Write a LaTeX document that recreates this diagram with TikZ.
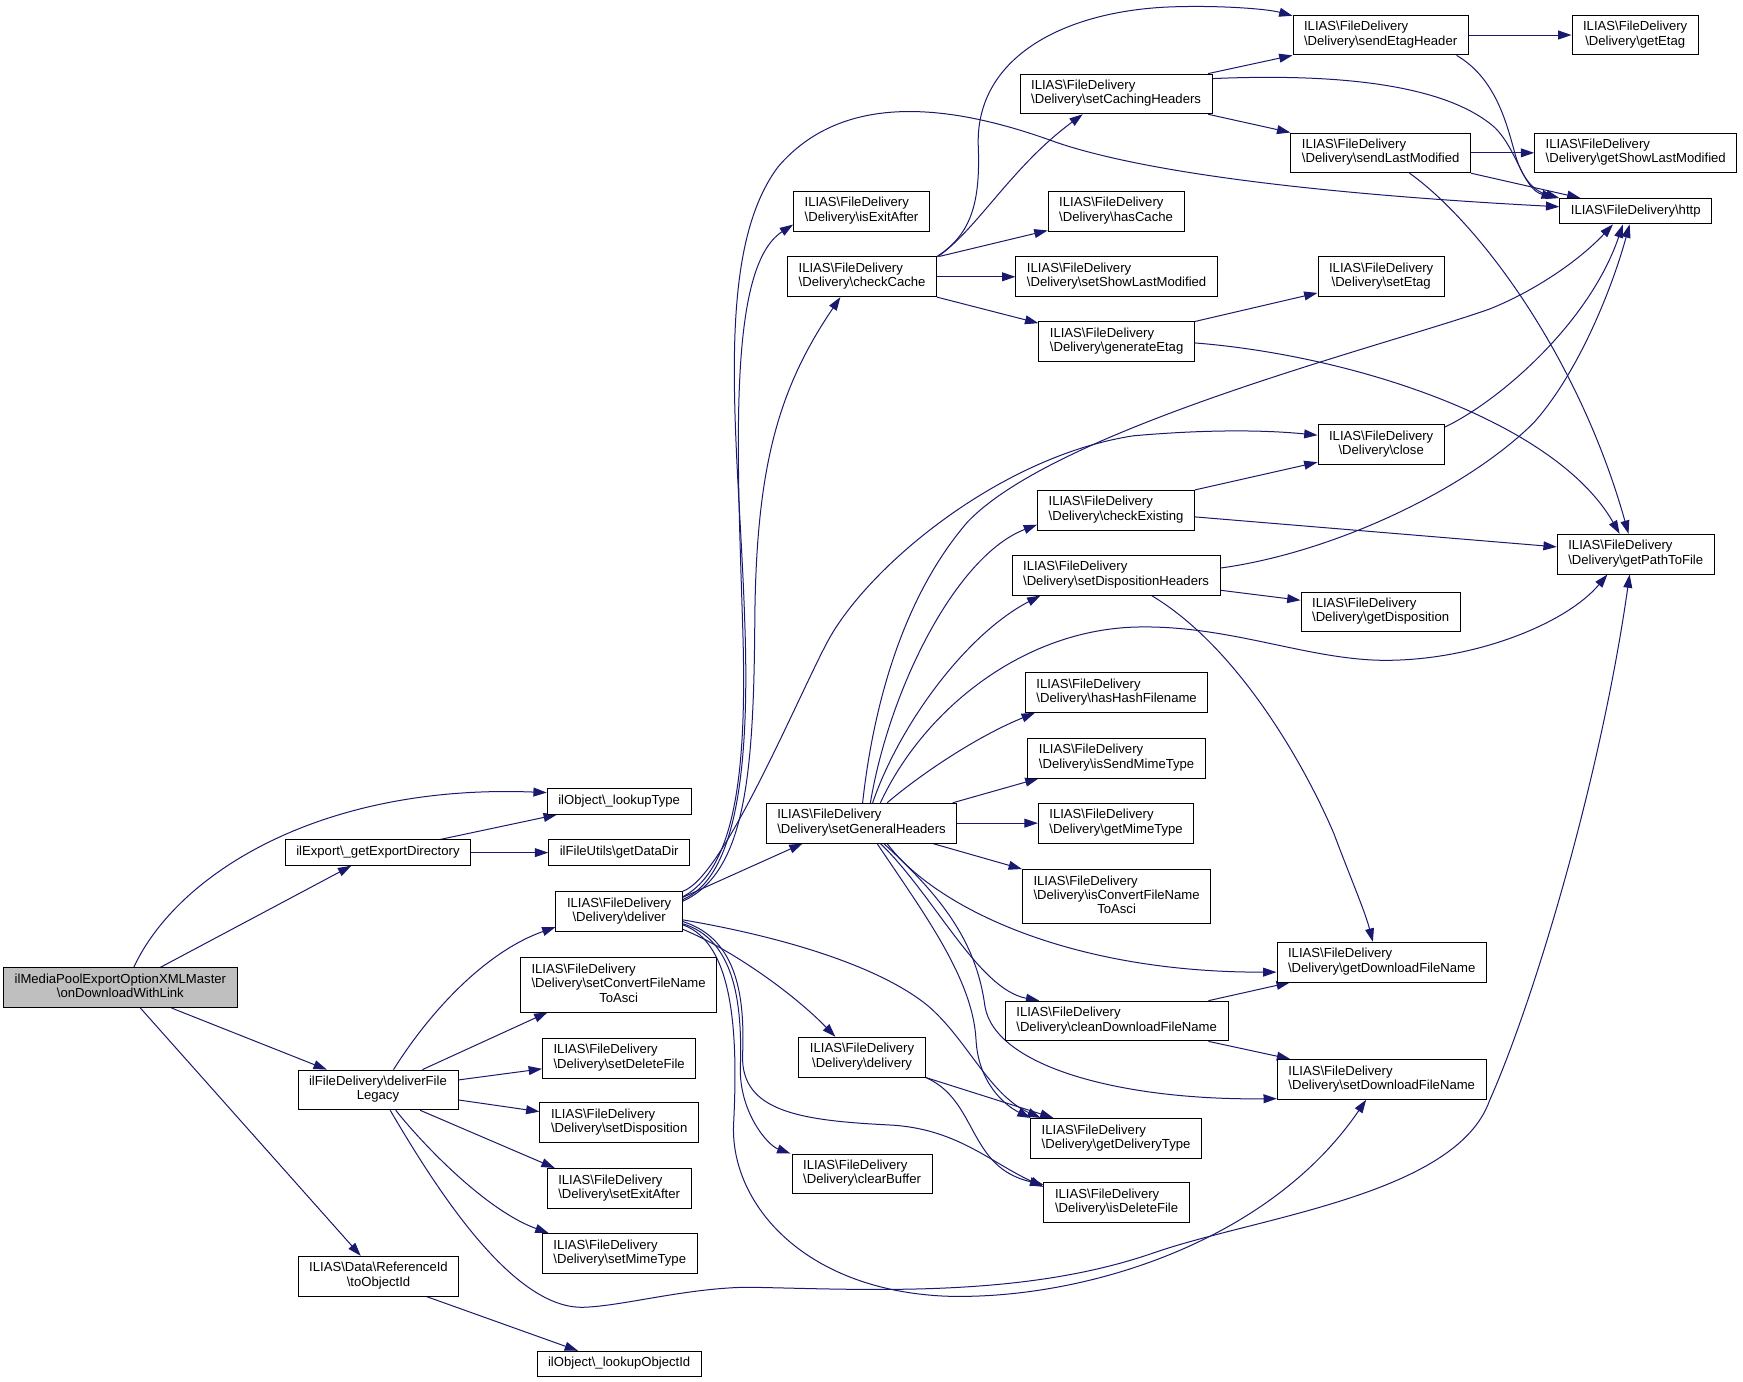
\documentclass[tikz,border=0pt]{standalone}
\usepackage{fontspec}
\setmainfont{Liberation Sans}
\usetikzlibrary{arrows.meta}
\pgfdeclarelayer{bg}
\pgfdeclarelayer{paper}
\pgfsetlayers{paper,bg,main}
\definecolor{edgecol}{HTML}{191970}
\definecolor{maingray}{HTML}{BFBFBF}
\newcommand\bsl{\textbackslash}
\newcommand\fdl{ILIAS\bsl FileDelivery}
\newcommand\dlv{\bsl Delivery\bsl}
\newcommand\lblA[1]{\begin{tabular}{@{}l@{}}#1\end{tabular}}
\newcommand\lblB[2]{\begin{tabular}{@{}l@{}}#1\\\multicolumn{1}{@{}c@{}}{#2}\end{tabular}}
\newcommand\lblC[3]{\begin{tabular}{@{}l@{}}#1\\#2\\\multicolumn{1}{@{}c@{}}{#3}\end{tabular}}
\tikzset{
  nbox/.style={draw=black, line width=0.8pt, fill=white, inner xsep=10pt, inner ysep=5pt,
    font=\fontsize{11.8}{12.9}\selectfont, anchor=center},
  conn/.style={draw=edgecol, line width=0.9pt, -{Triangle[length=12pt,width=8pt]}},
}
\begin{document}
\begin{tikzpicture}[x=1pt,y=-1pt]
\begin{pgfonlayer}{paper}
\fill[white] (0,0) rectangle (1568,1243);
\end{pgfonlayer}
\useasboundingbox (0,0) rectangle (1568,1243);

% ---------- nodes ----------
\node[nbox, fill=maingray] (main) at (108.3,888.5) {\lblB{ilMediaPoolExportOptionXMLMaster}{\bsl onDownloadWithLink}};
\node[nbox] (lookupType) at (557,721) {\lblA{ilObject\bsl\_lookupType}};
\node[nbox] (getExportDirectory) at (340,767) {\lblA{ilExport\bsl\_getExportDirectory}};
\node[nbox] (getDataDir) at (557,767) {\lblA{ilFileUtils\bsl getDataDir}};
\node[nbox] (deliver) at (557,820) {\lblB{\fdl}{\dlv deliver}};
\node[nbox] (setConvertFileNameToAsci) at (556.5,886) {\lblC{\fdl}{\dlv setConvertFileName}{ToAsci}};
\node[nbox] (setDeleteFile) at (557,952) {\lblB{\fdl}{\dlv setDeleteFile}};
\node[nbox] (deliverFileLegacy) at (340,980.5) {\lblB{ilFileDelivery\bsl deliverFile}{Legacy}};
\node[nbox] (setDisposition) at (557,1010) {\lblB{\fdl}{\dlv setDisposition}};
\node[nbox] (setExitAfter) at (557,1069) {\lblB{\fdl}{\dlv setExitAfter}};
\node[nbox] (setMimeType) at (557.5,1127.5) {\lblB{\fdl}{\dlv setMimeType}};
\node[nbox] (toObjectId) at (340.5,1148) {\lblB{ILIAS\bsl Data\bsl ReferenceId}{\bsl toObjectId}};
\node[nbox] (lookupObjectId) at (557,1227) {\lblA{ilObject\bsl\_lookupObjectId}};
\node[nbox] (isExitAfter) at (775,190) {\lblB{\fdl}{\dlv isExitAfter}};
\node[nbox] (checkCache) at (775.5,249) {\lblB{\fdl}{\dlv checkCache}};
\node[nbox] (setCachingHeaders) at (1004,84.5) {\lblB{\fdl}{\dlv setCachingHeaders}};
\node[nbox] (sendEtagHeader) at (1242,31.5) {\lblB{\fdl}{\dlv sendEtagHeader}};
\node[nbox] (getEtag) at (1471,31.5) {\lblB{\fdl}{\dlv getEtag}};
\node[nbox] (sendLastModified) at (1242,137.5) {\lblB{\fdl}{\dlv sendLastModified}};
\node[nbox] (getShowLastModified) at (1471.5,137.5) {\lblB{\fdl}{\dlv getShowLastModified}};
\node[nbox] (http) at (1471.5,190) {\lblA{\fdl\bsl http}};
\node[nbox] (hasCache) at (1004,190) {\lblB{\fdl}{\dlv hasCache}};
\node[nbox] (setShowLastModified) at (1004.5,249) {\lblB{\fdl}{\dlv setShowLastModified}};
\node[nbox] (setEtag) at (1242.5,249) {\lblB{\fdl}{\dlv setEtag}};
\node[nbox] (generateEtag) at (1004.5,307.5) {\lblB{\fdl}{\dlv generateEtag}};
\node[nbox] (close) at (1242.5,400) {\lblB{\fdl}{\dlv close}};
\node[nbox] (checkExisting) at (1004,459) {\lblB{\fdl}{\dlv checkExisting}};
\node[nbox] (getPathToFile) at (1471.5,498.5) {\lblB{\fdl}{\dlv getPathToFile}};
\node[nbox] (setDispositionHeaders) at (1004,517.5) {\lblB{\fdl}{\dlv setDispositionHeaders}};
\node[nbox] (getDisposition) at (1242,550.5) {\lblB{\fdl}{\dlv getDisposition}};
\node[nbox] (hasHashFilename) at (1004.5,623) {\lblB{\fdl}{\dlv hasHashFilename}};
\node[nbox] (isSendMimeType) at (1004.5,682) {\lblB{\fdl}{\dlv isSendMimeType}};
\node[nbox] (setGeneralHeaders) at (775,740.5) {\lblB{\fdl}{\dlv setGeneralHeaders}};
\node[nbox] (getMimeType) at (1004,740.5) {\lblB{\fdl}{\dlv getMimeType}};
\node[nbox] (isConvertFileNameToAsci) at (1004.5,806.5) {\lblC{\fdl}{\dlv isConvertFileName}{ToAsci}};
\node[nbox] (getDownloadFileName) at (1243,865.5) {\lblB{\fdl}{\dlv getDownloadFileName}};
\node[nbox] (cleanDownloadFileName) at (1004.5,918.5) {\lblB{\fdl}{\dlv cleanDownloadFileName}};
\node[nbox] (setDownloadFileName) at (1243,971) {\lblB{\fdl}{\dlv setDownloadFileName}};
\node[nbox] (delivery) at (775.5,951) {\lblB{\fdl}{\dlv delivery}};
\node[nbox] (getDeliveryType) at (1004,1024) {\lblB{\fdl}{\dlv getDeliveryType}};
\node[nbox] (clearBuffer) at (775.5,1056) {\lblB{\fdl}{\dlv clearBuffer}};
\node[nbox] (isDeleteFile) at (1004.5,1082) {\lblB{\fdl}{\dlv isDeleteFile}};

% ---------- connectors ----------
\begin{pgfonlayer}{bg}
% main
\draw[conn] ([xshift=12]main.north) .. controls (160,785) and (290,705) .. ([yshift=8]lookupType.west);
\draw[conn] ([xshift=36]main.north) -- ([xshift=-24]getExportDirectory.south);
\draw[conn] ([xshift=46]main.south) -- ([xshift=-46]deliverFileLegacy.north);
\draw[conn] ([xshift=18]main.south) -- ([xshift=-16]toObjectId.north);
\draw[conn] ([xshift=56]getExportDirectory.north) -- ([xshift=-56]lookupType.south);
\draw[conn] (getExportDirectory.east) -- (getDataDir.west);
\draw[conn] ([xshift=43]toObjectId.south) -- ([xshift=-37]lookupObjectId.north);
% deliverFileLegacy
\draw[conn] ([xshift=14]deliverFileLegacy.north) .. controls (390,905) and (440,855) .. ([yshift=-14]deliver.west);
\draw[conn] ([xshift=40]deliverFileLegacy.north) -- ([xshift=-64]setConvertFileNameToAsci.south);
\draw[conn] ([yshift=9]deliverFileLegacy.east) -- ([yshift=-9.5]setDeleteFile.west);
\draw[conn] ([yshift=-9]deliverFileLegacy.east) -- ([yshift=10]setDisposition.west);
\draw[conn] ([xshift=38]deliverFileLegacy.south) -- ([xshift=-58]setExitAfter.north);
\draw[conn] ([xshift=16]deliverFileLegacy.south) .. controls (385,1035) and (440,1090) .. ([xshift=-64]setMimeType.north);
\draw[conn] ([xshift=11]deliverFileLegacy.south) .. controls (390,1065) and (460,1178) .. (525,1176)
   .. controls (560,1175) and (620,1158) .. (675,1158)
   .. controls (780,1160) and (920,1168) .. (1038,1127)
   .. controls (1130,1095) and (1310,1075) .. (1340,990)
   .. controls (1380,900) and (1440,700) .. ([xshift=-5.5]getPathToFile.south);
% deliver
\draw[conn] ([yshift=-7.5]deliver.north east) .. controls (660,790) and (675,700) .. (670,560)
   .. controls (665,400) and (640,230) .. (700,150)
   .. controls (760,80) and (860,95) .. (950,128)
   .. controls (1050,162) and (1250,178) .. ([yshift=4]http.west);
\draw[conn] ([yshift=-5]deliver.north east) .. controls (665,780) and (672,680) .. (668,560)
   .. controls (663,400) and (655,240) .. ([yshift=-12]isExitAfter.west);
\draw[conn] ([yshift=-9]deliver.north east) .. controls (670,785) and (678,700) .. (679,560)
   .. controls (680,420) and (700,350) .. ([xshift=-19.5]checkCache.south);
\draw[conn] (deliver.north east) .. controls (650,790) and (716,631) .. (744,578)
   .. controls (780,510) and (900,410) .. (1020,392)
   .. controls (1100,385) and (1150,388) .. ([yshift=8.5]close.west);
\draw[conn] ([yshift=-5.5]deliver.north east) -- ([xshift=-53]setGeneralHeaders.south);
\draw[conn] ([yshift=-7.5]deliver.east) .. controls (700,842) and (790,868) .. (835,905)
   .. controls (870,935) and (890,985) .. ([xshift=9.5]getDeliveryType.north west);
\draw[conn] ([yshift=-16]deliver.east) .. controls (660,855) and (715,895) .. ([xshift=-24]delivery.north);
\draw[conn] ([yshift=-11]deliver.east) .. controls (660,845) and (668,900) .. (666,960)
   .. controls (665,1000) and (690,1030) .. ([xshift=-1]clearBuffer.north west);
\draw[conn] ([yshift=-9]deliver.east) .. controls (665,845) and (670,900) .. (668,950)
   .. controls (667,1000) and (720,1008) .. (800,1012)
   .. controls (860,1015) and (890,1045) .. ([yshift=-4]isDeleteFile.north west);
\draw[conn] ([yshift=-12]deliver.east) .. controls (660,848) and (664,930) .. (660,1010)
   .. controls (656,1080) and (720,1160) .. (850,1166)
   .. controls (970,1170) and (1140,1120) .. ([xshift=-14]setDownloadFileName.south);
% checkCache
\draw[conn] (checkCache.north east) .. controls (875,210) and (882,180) .. (880,130)
   .. controls (878,50) and (960,8) .. (1060,6)
   .. controls (1100,5) and (1140,8) .. ([yshift=-1]sendEtagHeader.north west);
\draw[conn] ([xshift=1]checkCache.north east) .. controls (880,205) and (910,150) .. ([xshift=-30]setCachingHeaders.south);
\draw[conn] ([xshift=2]checkCache.north east) -- ([yshift=1]hasCache.south west);
\draw[conn] (checkCache.east) -- (setShowLastModified.west);
\draw[conn] (checkCache.south east) -- ([yshift=-1.5]generateEtag.north west);
% setCachingHeaders
\draw[conn] ([xshift=-4]setCachingHeaders.north east) -- (sendEtagHeader.south west);
\draw[conn] ([yshift=-4.5]setCachingHeaders.north east) .. controls (1200,66) and (1300,75) .. (1345,115)
   .. controls (1365,135) and (1370,170) .. ([xshift=-4]http.north west);
\draw[conn] ([xshift=-4]setCachingHeaders.south east) -- (sendLastModified.north west);
% sendEtagHeader
\draw[conn] (sendEtagHeader.east) -- (getEtag.west);
\draw[conn] ([xshift=-11]sendEtagHeader.south east) .. controls (1345,70) and (1355,110) .. (1362,135)
   .. controls (1368,160) and (1380,172) .. (http.north west);
% sendLastModified
\draw[conn] (sendLastModified.east) -- (getShowLastModified.west);
\draw[conn] (sendLastModified.south east) -- ([xshift=19]http.north west);
\draw[conn] ([xshift=26]sendLastModified.south) .. controls (1330,200) and (1420,320) .. ([xshift=-6.5]getPathToFile.north);
% generateEtag
\draw[conn] (generateEtag.north east) -- ([yshift=-14.5]setEtag.west);
\draw[conn] ([yshift=-1]generateEtag.east) .. controls (1220,320) and (1400,380) .. ([xshift=-14.5]getPathToFile.north);
% close
\draw[conn] ([yshift=-2.5]close.north east) .. controls (1350,360) and (1430,290) .. ([xshift=-11.5]http.south);
% checkExisting
\draw[conn] (checkExisting.north east) -- ([yshift=2.5]close.south west);
\draw[conn] ([yshift=-6]checkExisting.east) -- ([yshift=6.5]getPathToFile.west);
% setDispositionHeaders
\draw[conn] ([yshift=6.5]setDispositionHeaders.east) .. controls (1200,497) and (1320,440) .. (1380,380)
   .. controls (1420,335) and (1450,260) .. ([xshift=-5.5]http.south);
\draw[conn] ([yshift=-13.5]setDispositionHeaders.east) -- ([yshift=10.5]getDisposition.west);
\draw[conn] ([xshift=32]setDispositionHeaders.south) .. controls (1110,580) and (1170,680) .. (1200,750)
   .. controls (1215,790) and (1228,820) .. ([xshift=-8]getDownloadFileName.north);
% setGeneralHeaders
\draw[conn] ([xshift=1]setGeneralHeaders.north) .. controls (785,640) and (810,540) .. (870,470)
   .. controls (950,385) and (1250,310) .. (1340,278)
   .. controls (1380,262) and (1420,235) .. ([xshift=-20.5]http.south);
\draw[conn] ([xshift=8]setGeneralHeaders.north) .. controls (800,620) and (860,500) .. ([yshift=-13]checkExisting.west);
\draw[conn] ([xshift=10]setGeneralHeaders.north) .. controls (810,650) and (870,570) .. ([xshift=26]setDispositionHeaders.south west);
\draw[conn] ([xshift=17]setGeneralHeaders.north) .. controls (830,640) and (920,565) .. (1026,564)
   .. controls (1110,563) and (1180,595) .. (1250,594)
   .. controls (1330,593) and (1410,560) .. ([xshift=-25.5]getPathToFile.south);
\draw[conn] ([xshift=23]setGeneralHeaders.north) .. controls (830,695) and (880,662) .. ([xshift=9]hasHashFilename.south west);
\draw[conn] ([xshift=82]setGeneralHeaders.north) -- ([xshift=10]isSendMimeType.south west);
\draw[conn] (setGeneralHeaders.east) -- (getMimeType.west);
\draw[conn] ([xshift=64]setGeneralHeaders.south) -- (isConvertFileNameToAsci.north west);
\draw[conn] ([xshift=23]setGeneralHeaders.south) .. controls (840,815) and (960,875) .. ([yshift=-9]getDownloadFileName.west);
\draw[conn] ([xshift=17]setGeneralHeaders.south) .. controls (840,805) and (880,890) .. ([xshift=31]cleanDownloadFileName.north west);
\draw[conn] ([xshift=20]setGeneralHeaders.south) .. controls (845,805) and (878,845) .. (886,905)
   .. controls (895,960) and (1010,990) .. ([yshift=1]setDownloadFileName.south west);
\draw[conn] ([xshift=14]setGeneralHeaders.south) .. controls (830,820) and (875,880) .. (878,935)
   .. controls (880,975) and (905,995) .. ([xshift=0.5]getDeliveryType.north west);
% cleanDownloadFileName
\draw[conn] ([xshift=-18]cleanDownloadFileName.north east) -- ([xshift=12]getDownloadFileName.south west);
\draw[conn] ([xshift=-18]cleanDownloadFileName.south east) -- ([xshift=12]setDownloadFileName.north west);
% delivery
\draw[conn] (delivery.south east) -- ([xshift=21]getDeliveryType.north west);
\draw[conn] (delivery.south east) .. controls (880,990) and (870,1050) .. ([yshift=-2]isDeleteFile.north west);
\end{pgfonlayer}
\end{tikzpicture}
\end{document}
